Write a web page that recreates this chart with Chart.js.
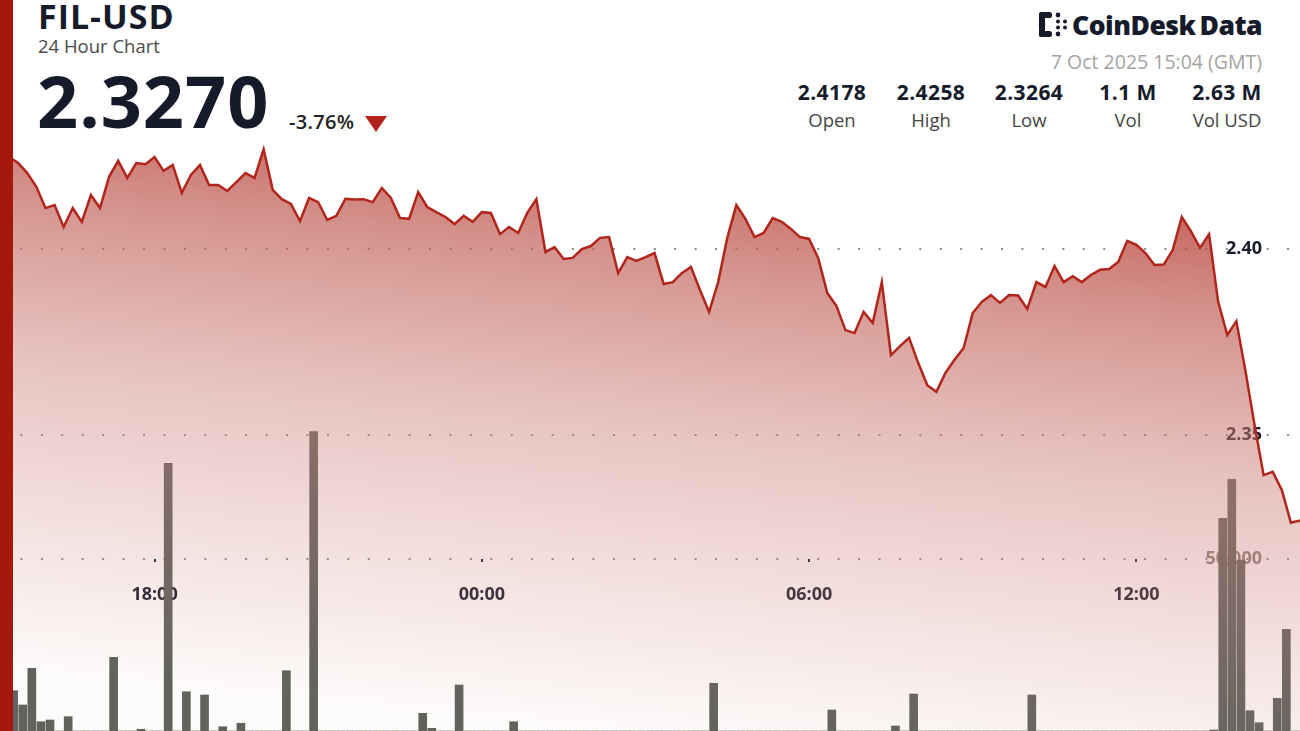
<!DOCTYPE html>
<html>
<head>
<meta charset="utf-8">
<script src="https://cdn.jsdelivr.net/npm/chart.js@4.4.1/dist/chart.umd.min.js"></script>
<style>
  html, body { margin: 0; padding: 0; background: #fff; }
  body { width: 1300px; height: 731px; position: relative; overflow: hidden; font-family: 'Open Sans', sans-serif; color: #151b2b; }
  .abs { position: absolute; line-height: 1; white-space: nowrap; }
  #redbar { position: absolute; left: 0; top: 0; width: 13px; height: 731px; background: #a5190d; z-index: 5; }
  #chartBox { position: absolute; left: 0; top: 140px; width: 1300px; height: 591px; }
  .stat { position: absolute; width: 110px; text-align: center; line-height: 1; }
  .stat .v { font-size: 21px; font-weight: 700; color: #151b2b; letter-spacing: 0.4px; }
  .stat .l { font-size: 18.5px; color: #454545; margin-top: 8px; }
</style>
</head>
<body>
<div id="redbar"></div>

<div class="abs" style="left:38px; top:-1px; font-size:34px; font-weight:700; letter-spacing:1px;">FIL-USD</div>
<div class="abs" style="left:38px; top:37px; font-size:18.5px; color:#4a4a4a;">24 Hour Chart</div>
<div class="abs" style="left:37px; top:64px; font-size:72px; font-weight:700; letter-spacing:1px;">2.3270</div>
<div class="abs" style="left:289px; top:112px; font-size:20px; font-weight:600; color:#222; letter-spacing:0.3px;">-3.76%</div>
<div style="position:absolute; left:365px; top:116px; width:0; height:0; border-left:11px solid transparent; border-right:11px solid transparent; border-top:16px solid #b3221a;"></div>

<svg style="position:absolute; left:1037px; top:10px;" width="32" height="29" viewBox="0 0 32 29">
  <g fill="#151b2b">
    <rect x="2" y="2" width="6" height="25" rx="2.5"/>
    <rect x="2" y="2" width="13" height="6" rx="2.5"/>
    <rect x="2" y="21" width="13" height="6" rx="2.5"/>
    <circle cx="5" cy="14.5" r="3.2"/>
    <circle cx="21" cy="5" r="2.4"/>
    <circle cx="21" cy="24" r="2.4"/>
    <circle cx="21" cy="11.5" r="2"/>
    <circle cx="21" cy="17.5" r="2"/>
    <circle cx="28" cy="11.5" r="2"/>
    <circle cx="28" cy="17.5" r="2"/>
  </g>
</svg>
<div class="abs" style="left:1072px; top:12px; font-size:26.5px; font-weight:800; letter-spacing:-0.5px;">CoinDesk<span style="margin-left:4px;">Data</span></div>
<div class="abs" style="right:38px; top:52px; font-size:19.5px; color:#a3a3a3;">7 Oct 2025 15:04 (GMT)</div>

<div class="stat" style="left:777px; top:82px;"><div class="v">2.4178</div><div class="l">Open</div></div>
<div class="stat" style="left:876px; top:82px;"><div class="v">2.4258</div><div class="l">High</div></div>
<div class="stat" style="left:974px; top:82px;"><div class="v">2.3264</div><div class="l">Low</div></div>
<div class="stat" style="left:1073px; top:82px;"><div class="v">1.1 M</div><div class="l">Vol</div></div>
<div class="stat" style="left:1172px; top:82px;"><div class="v">2.63 M</div><div class="l">Vol USD</div></div>

<div id="chartBox"><canvas id="priceChart" width="1300" height="591"></canvas></div>

<script>
// 10 minute samples, 15:10 (6 Oct) to 15:00 (7 Oct)
const times = [
  '15:10','15:20','15:30','15:40','15:50',
  '16:00','16:10','16:20','16:30','16:40','16:50',
  '17:00','17:10','17:20','17:30','17:40','17:50',
  '18:00','18:10','18:20','18:30','18:40','18:50',
  '19:00','19:10','19:20','19:30','19:40','19:50',
  '20:00','20:10','20:20','20:30','20:40','20:50',
  '21:00','21:10','21:20','21:30','21:40','21:50',
  '22:00','22:10','22:20','22:30','22:40','22:50',
  '23:00','23:10','23:20','23:30','23:40','23:50',
  '00:00','00:10','00:20','00:30','00:40','00:50',
  '01:00','01:10','01:20','01:30','01:40','01:50',
  '02:00','02:10','02:20','02:30','02:40','02:50',
  '03:00','03:10','03:20','03:30','03:40','03:50',
  '04:00','04:10','04:20','04:30','04:40','04:50',
  '05:00','05:10','05:20','05:30','05:40','05:50',
  '06:00','06:10','06:20','06:30','06:40','06:50',
  '07:00','07:10','07:20','07:30','07:40','07:50',
  '08:00','08:10','08:20','08:30','08:40','08:50',
  '09:00','09:10','09:20','09:30','09:40','09:50',
  '10:00','10:10','10:20','10:30','10:40','10:50',
  '11:00','11:10','11:20','11:30','11:40','11:50',
  '12:00','12:10','12:20','12:30','12:40','12:50',
  '13:00','13:10','13:20','13:30','13:40','13:50',
  '14:00','14:10','14:20','14:30','14:40','14:50',
  '15:00'
];

const prices = [
  2.4255, 2.4247, 2.4231, 2.4204, 2.4167, 2.4110, 2.4118, 2.4059, 2.4110, 2.4073,
  2.4145, 2.4110, 2.4194, 2.4237, 2.4191, 2.4231, 2.4228, 2.4247, 2.4210, 2.4226,
  2.4151, 2.4199, 2.4226, 2.4172, 2.4172, 2.4156, 2.4180, 2.4204, 2.4191, 2.4268,
  2.4159, 2.4134, 2.4121, 2.4075, 2.4137, 2.4126, 2.4078, 2.4089, 2.4135, 2.4133,
  2.4134, 2.4126, 2.4164, 2.4137, 2.4083, 2.4081, 2.4153, 2.4113, 2.4099, 2.4086,
  2.4067, 2.4089, 2.4073, 2.4099, 2.4097, 2.4040, 2.4059, 2.4043, 2.4097, 2.4134,
  2.3992, 2.4005, 2.3973, 2.3976, 2.4000, 2.4008, 2.4030, 2.4032, 2.3935, 2.3978,
  2.3968, 2.3978, 2.3989, 2.3906, 2.3911, 2.3935, 2.3952, 2.3890, 2.3831, 2.3911,
  2.4030, 2.4118, 2.4081, 2.4032, 2.4043, 2.4083, 2.4073, 2.4054, 2.4032, 2.4027,
  2.3976, 2.3882, 2.3847, 2.3782, 2.3774, 2.3831, 2.3801, 2.3911, 2.3715, 2.3739,
  2.3761, 2.3694, 2.3634, 2.3616, 2.3667, 2.3702, 2.3734, 2.3828, 2.3858, 2.3876,
  2.3855, 2.3876, 2.3875, 2.3839, 2.3911, 2.3898, 2.3954, 2.3911, 2.3927, 2.3911,
  2.3930, 2.3944, 2.3946, 2.3965, 2.4022, 2.4011, 2.3989, 2.3957, 2.3958, 2.3997,
  2.4086, 2.4048, 2.4003, 2.4040, 2.3858, 2.3769, 2.3806, 2.3672, 2.3527, 2.3392,
  2.3401, 2.3352, 2.3264, 2.3270
];

// volume per 10 min interval (one less than price samples)
const volumes = [
  0, 11700, 7560, 18230, 2700, 3200, 0, 4160, 0, 0,
  0, 0, 21420, 0, 0, 500, 0, 0, 77820, 0,
  11420, 0, 10470, 0, 1250, 0, 2240, 0, 0, 0,
  0, 17530, 0, 0, 87010, 0, 0, 0, 0, 0,
  0, 0, 0, 0, 0, 0, 5150, 785, 0, 0,
  13370, 0, 0, 0, 0, 0, 2700, 0, 0, 0,
  0, 0, 0, 0, 0, 0, 0, 0, 0, 0,
  0, 0, 0, 0, 0, 0, 0, 0, 13870, 0,
  0, 0, 0, 0, 0, 0, 0, 0, 0, 0,
  0, 6100, 0, 0, 0, 0, 0, 0, 1450, 0,
  10760, 0, 0, 0, 0, 0, 0, 0, 0, 0,
  0, 0, 0, 10470, 0, 0, 0, 0, 0, 0,
  0, 0, 0, 0, 0, 0, 0, 0, 0, 0,
  0, 0, 0, 290, 61830, 73170, 49700, 5900, 2410, 0,
  9500, 29560, 0
];

const xTickLabels = ['18:00', '00:00', '06:00', '12:00'];
const priceTicks = [2.35, 2.40];
const volumeTicks = [50000];

const PRICE_MIN = 2.27043;
const PRICE_MAX = 2.42930;
const VOL_MAX = 171800;

const NAVY = '#161c2c';
const DOTS = [2, 18.43];

Chart.defaults.font.family = "'Open Sans', sans-serif";

// the area sits over the volume bars and tints them
function areaFill(c) {
  const area = c.chart.chartArea;
  if (!area) return 'rgba(200,110,100,0.4)';
  const mid = (area.left + area.right) / 2;
  const g = c.chart.ctx.createLinearGradient(mid + 30, area.top, mid - 30, area.bottom);
  g.addColorStop(0, 'rgba(186,70,60,0.88)');
  g.addColorStop(0.2, 'rgba(192,94,86,0.68)');
  g.addColorStop(0.5, 'rgba(204,128,120,0.45)');
  g.addColorStop(0.72, 'rgba(206,132,124,0.27)');
  g.addColorStop(1, 'rgba(206,132,124,0.04)');
  return g;
}

// axes overlay the plot, so they must not take any room
function noSpace(s) {
  if (s.isHorizontal()) s.height = 0; else s.width = 0;
  s.paddingTop = 0; s.paddingBottom = 0; s.paddingLeft = 0; s.paddingRight = 0;
}

var ct = document.getElementById('priceChart').getContext('2d');

var priceChart = new Chart(ct, {
  type: 'line',
  data: {
    labels: times,
    datasets: [{
      type: 'line',
      label: 'FIL-USD',
      data: prices,
      xAxisID: 'x',
      yAxisID: 'price',
      borderColor: '#b1251b',
      borderWidth: 2.5,
      pointRadius: 0,
      tension: 0,
      fill: 'start',
      backgroundColor: areaFill,
      order: 1
    }, {
      type: 'bar',
      label: 'Volume',
      data: volumes,
      xAxisID: 'xv',
      yAxisID: 'y',
      backgroundColor: '#5b615c',
      grouped: false,
      barThickness: 8,
      order: 2
    }]
  },
  options: {
    responsive: false,
    animation: false,
    devicePixelRatio: 1,
    layout: { padding: 0 },
    plugins: { legend: { display: false }, tooltip: { enabled: false } },
    scales: {
      x: {
        type: 'category',
        offset: false,
        position: { y: 50000 },
        z: 1,
        border: { display: false },
        grid: { drawOnChartArea: false, drawTicks: true, tickLength: 3, color: NAVY, lineWidth: 2 },
        ticks: {
          autoSkip: false,
          maxRotation: 0,
          padding: 22,
          color: NAVY,
          font: { size: 18, weight: 'bold' },
          callback: function (v) {
            const l = this.getLabelForValue(v);
            return xTickLabels.includes(l) ? l : null;
          }
        },
        afterFit: noSpace
      },
      xv: {
        type: 'category',
        labels: times.slice(0, volumes.length),
        offset: true,
        display: false
      },
      price: {
        type: 'linear',
        position: 'right',
        min: PRICE_MIN,
        max: PRICE_MAX,
        z: 1,
        afterBuildTicks: s => { s.ticks = priceTicks.map(v => ({ value: v })); },
        border: { display: false, dash: DOTS },
        grid: { color: '#8c8c8c', lineWidth: 2, drawTicks: false },
        ticks: {
          mirror: true,
          padding: -38,
          color: NAVY,
          font: { size: 18, weight: 'bold' },
          callback: v => Number(v).toFixed(2)
        },
        afterFit: noSpace
      },
      y: {
        type: 'linear',
        position: 'right',
        min: 0,
        max: VOL_MAX,
        afterBuildTicks: s => { s.ticks = volumeTicks.map(v => ({ value: v })); },
        border: { display: false, dash: DOTS },
        grid: { color: '#8c8c8c', lineWidth: 2, drawTicks: false },
        ticks: {
          mirror: true,
          padding: -38,
          color: 'rgba(125,112,110,0.9)',
          font: { size: 18, weight: 'bold' },
          callback: v => Number(v).toLocaleString('en-US')
        },
        afterFit: noSpace
      }
    }
  }
});
</script>
</body>
</html>
